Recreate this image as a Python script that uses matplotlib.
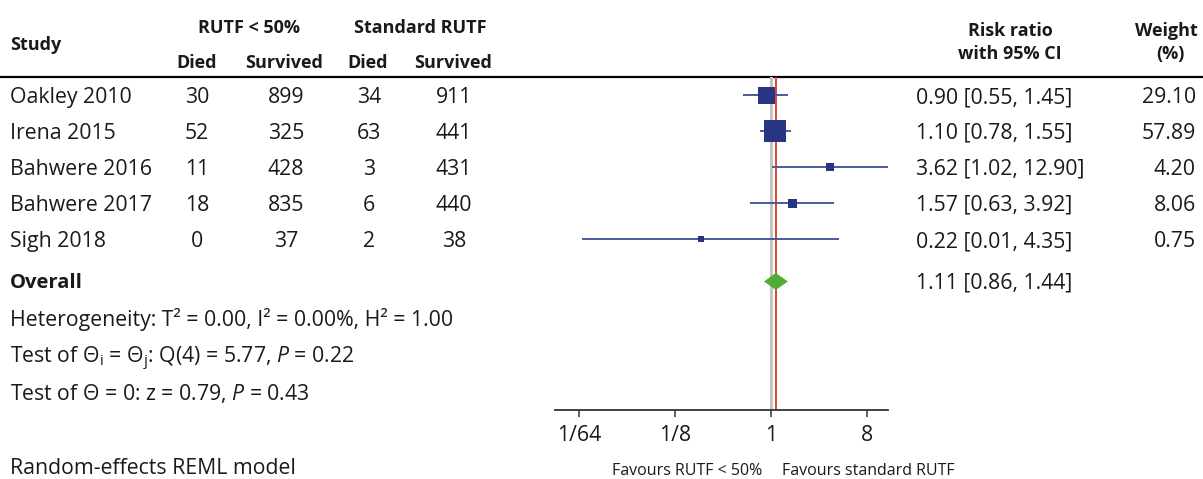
import matplotlib
matplotlib.use("Agg")
import matplotlib.pyplot as plt
from matplotlib.patches import Polygon
import numpy as np

# ---------------- data ----------------
studies = ["Oakley 2010", "Irena 2015", "Bahwere 2016", "Bahwere 2017", "Sigh 2018"]
low_died = [30, 52, 11, 18, 0]
low_surv = [899, 325, 428, 835, 37]
std_died = [34, 63, 3, 6, 2]
std_surv = [911, 441, 431, 440, 38]
rr = [0.90, 1.10, 3.62, 1.57, 0.22]
ci_lo = [0.55, 0.78, 1.02, 0.63, 0.0165]   # as drawn (label shows 0.01)
ci_hi = [1.45, 1.55, 12.90, 3.92, 4.35]
ci_text = ["0.90 [0.55, 1.45]", "1.10 [0.78, 1.55]", "3.62 [1.02, 12.90]",
           "1.57 [0.63, 3.92]", "0.22 [0.01, 4.35]"]
weights = [29.10, 57.89, 4.20, 8.06, 0.75]
overall_rr = 1.11
overall_lo = 0.86
overall_hi = 1.44
overall_text = "1.11 [0.86, 1.44]"
xtick_vals = [1/64, 1/8, 1, 8]
xtick_labels = ["1/64", "1/8", "1", "8"]

# ---------------- style ----------------
W, H = 1203, 479
FONT = "Open Sans"
plt.rcParams["font.family"] = [FONT, "DejaVu Sans"]
plt.rcParams["mathtext.fontset"] = "custom"
plt.rcParams["mathtext.rm"] = FONT
plt.rcParams["mathtext.it"] = FONT + ":italic"
plt.rcParams["mathtext.bf"] = FONT + ":bold"
TXT = "#1a1a1a"
NAVY = "#283583"
CI_COL = "#4b5a9c"
GREEN = "#4fae32"
RED = "#d4381e"
GREY = "#c4c4c4"
FS = 15.3
HFS = 13

box_side_px = [17, 23, 8, 9, 6]

fig = plt.figure(figsize=(W / 100, H / 100), dpi=100)
canvas = fig.add_axes([0, 0, 1, 1])
canvas.set_xlim(0, W)
canvas.set_ylim(H, 0)
canvas.axis("off")

# header
def htext(x, y, s, ha="center"):
    canvas.text(x, y, s, ha=ha, va="baseline", fontsize=HFS, fontweight="bold", color=TXT)

htext(10, 50, "Study", ha="left")
htext(249, 33, "RUTF < 50%")
htext(420, 33, "Standard RUTF")
htext(197, 68, "Died")
htext(284, 68, "Survived")
htext(368, 68, "Died")
htext(453, 68, "Survived")
htext(1010, 36, "Risk ratio")
htext(1010, 59, "with 95% CI")
htext(1166, 36, "Weight")
htext(1170, 59, "(%)")
canvas.plot([0, W], [77, 77], color="black", lw=1.6, solid_capstyle="butt")

# rows
row_base = [103 + 36 * i for i in range(len(studies))]
for i, s in enumerate(studies):
    yb = row_base[i]
    canvas.text(10, yb, s, ha="left", va="baseline", fontsize=FS, color=TXT)
    canvas.text(197, yb, str(low_died[i]), ha="center", va="baseline", fontsize=FS, color=TXT)
    canvas.text(286, yb, str(low_surv[i]), ha="center", va="baseline", fontsize=FS, color=TXT)
    canvas.text(369, yb, str(std_died[i]), ha="center", va="baseline", fontsize=FS, color=TXT)
    canvas.text(454, yb, str(std_surv[i]), ha="center", va="baseline", fontsize=FS, color=TXT)
    canvas.text(916, yb, ci_text[i], ha="left", va="baseline", fontsize=FS, color=TXT)
    canvas.text(1196, yb, f"{weights[i]:.2f}", ha="right", va="baseline", fontsize=FS, color=TXT)

canvas.text(10, 288, "Overall", ha="left", va="baseline", fontsize=14.5, fontweight="bold", color=TXT)
canvas.text(916, 288, overall_text, ha="left", va="baseline", fontsize=FS, color=TXT)
canvas.text(10, 326, "Heterogeneity: T² = 0.00, I² = 0.00%, H² = 1.00",
            ha="left", va="baseline", fontsize=FS, color=TXT)
canvas.text(10, 363, r"Test of Θ$_\mathrm{i}$ = Θ$_\mathrm{j}$: Q(4) = 5.77, $P$ = 0.22",
            ha="left", va="baseline", fontsize=FS, color=TXT)
canvas.text(10, 400, r"Test of Θ = 0: z = 0.79, $P$ = 0.43",
            ha="left", va="baseline", fontsize=FS, color=TXT)
canvas.text(10, 474, "Random-effects REML model", ha="left", va="baseline", fontsize=FS, color=TXT)
canvas.text(762, 475, "Favours RUTF < 50%", ha="right", va="baseline", fontsize=11.5, color=TXT)
canvas.text(782, 475, "Favours standard RUTF", ha="left", va="baseline", fontsize=11.5, color=TXT)

# forest axes
x0_px, x1_px = 555, 888
y_top, y_bot = 77, 410
ax = fig.add_axes([x0_px / W, (H - y_bot) / H, (x1_px - x0_px) / W, (y_bot - y_top) / H])
ax.set_xscale("log", base=2)
px_per_unit = 32.0
ax.set_xlim(2 ** ((x0_px - 771) / px_per_unit), 2 ** ((x1_px - 771) / px_per_unit))
ax.set_ylim(y_bot, y_top)
ax.patch.set_alpha(0)
for sp in ["top", "left", "right"]:
    ax.spines[sp].set_visible(False)
ax.spines["bottom"].set_color("#333333")
ax.spines["bottom"].set_linewidth(1.3)
ax.set_yticks([])
ax.set_xticks(xtick_vals)
ax.set_xticklabels(xtick_labels)
ax.minorticks_off()
ax.tick_params(axis="x", length=5, width=1.1, color="#333333", labelsize=FS,
               labelcolor=TXT, pad=6)

ax.axvline(1, color=GREY, lw=2.2, zorder=1)
ax.axvline(overall_rr, color=RED, lw=1.3, zorder=2)

mark_y = [95 + 36 * i for i in range(len(studies))]
for i in range(len(studies)):
    ax.plot([ci_lo[i], ci_hi[i]], [mark_y[i], mark_y[i]], color=CI_COL, lw=1.4,
            solid_capstyle="butt", zorder=3)
    ax.plot([rr[i]], [mark_y[i]], marker="s", color=NAVY, markersize=box_side_px[i] * 0.72,
            markeredgewidth=0, linestyle="none", zorder=4)

yd, hd = 281.5, 8.5
diamond = Polygon([[overall_lo, yd], [overall_rr, yd - hd], [overall_hi, yd], [overall_rr, yd + hd]],
                  closed=True, facecolor=GREEN, edgecolor="none", zorder=5)
ax.add_patch(diamond)

fig.savefig("out.png", dpi=100)
